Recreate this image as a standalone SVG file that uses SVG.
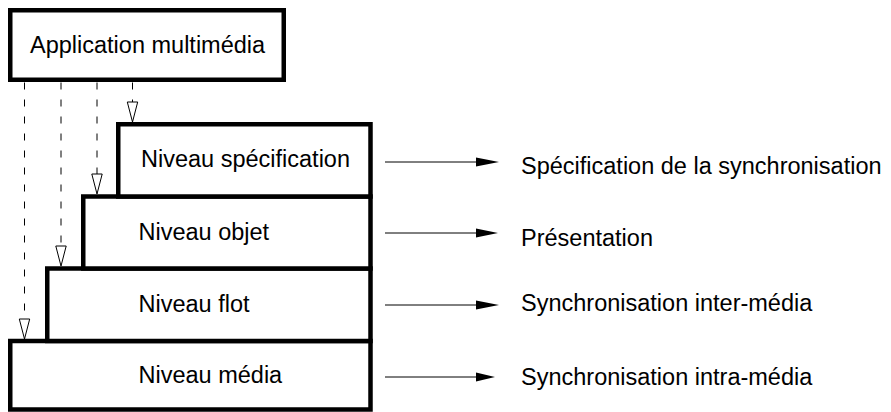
<svg xmlns="http://www.w3.org/2000/svg" width="891" height="412" viewBox="0 0 891 412">
<defs>
<style>
.box{fill:#fff;stroke:#000;stroke-width:4.5}
.t{font-family:"Liberation Sans",Arial,sans-serif;font-size:23.5px;fill:#000}
.dash{stroke:#000;stroke-width:1;stroke-dasharray:7 10;fill:none}
.tri{fill:#fff;stroke:#000;stroke-width:1}
.arr{stroke:#000;stroke-width:1;fill:none}
.head{fill:#000;stroke:none}
</style>
</defs>
<rect width="891" height="412" fill="#fff"/>
<g id="app">
<rect class="box" x="10.25" y="10.25" width="273.5" height="69.5"/>
<text class="t" x="30" y="53">Application multimédia</text>
</g>
<g id="media">
<rect class="box" x="10.25" y="341" width="360.25" height="68.5"/>
<text class="t" x="138.5" y="383.3">Niveau média</text>
</g>
<g id="flot">
<rect class="box" x="47.25" y="268.5" width="323.25" height="72.5"/>
<text class="t" x="138.5" y="311.7">Niveau flot</text>
</g>
<g id="objet">
<rect class="box" x="83.25" y="196.5" width="287.25" height="72"/>
<text class="t" x="138.5" y="240">Niveau objet</text>
</g>
<g id="specification">
<rect class="box" x="118.25" y="124.25" width="252.25" height="72.25"/>
<text class="t" x="141" y="167">Niveau spécification</text>
</g>
<g id="labels">
<text class="t" x="521" y="174">Spécification de la synchronisation</text>
<text class="t" x="521" y="246">Présentation</text>
<text class="t" x="521" y="311">Synchronisation inter-média</text>
<text class="t" x="521" y="385">Synchronisation intra-média</text>
</g>
<g id="connectors">
<line class="dash" x1="24.5" y1="82.5" x2="24.5" y2="319"/>
<polygon class="tri" points="19.3,319 29.7,319 24.5,339"/>
<line class="dash" x1="61" y1="82.5" x2="61" y2="246"/>
<polygon class="tri" points="55.8,246 66.2,246 61,266"/>
<line class="dash" x1="97" y1="82.5" x2="97" y2="174"/>
<polygon class="tri" points="91.8,174 102.2,174 97,194"/>
<line class="dash" x1="132.5" y1="82.5" x2="132.5" y2="102"/>
<polygon class="tri" points="127.3,102 137.7,102 132.5,122"/>
<line class="arr" x1="385" y1="162" x2="477" y2="162"/>
<polygon class="head" points="476,157.5 499,162 476,166.5"/>
<line class="arr" x1="385" y1="233" x2="477" y2="233"/>
<polygon class="head" points="476,228.5 498,233 476,237.5"/>
<line class="arr" x1="385" y1="305" x2="477" y2="305"/>
<polygon class="head" points="476,300.5 499,305 476,309.5"/>
<line class="arr" x1="385" y1="377" x2="477" y2="377"/>
<polygon class="head" points="476,372.5 495,377 476,381.5"/>
</g>
</svg>
